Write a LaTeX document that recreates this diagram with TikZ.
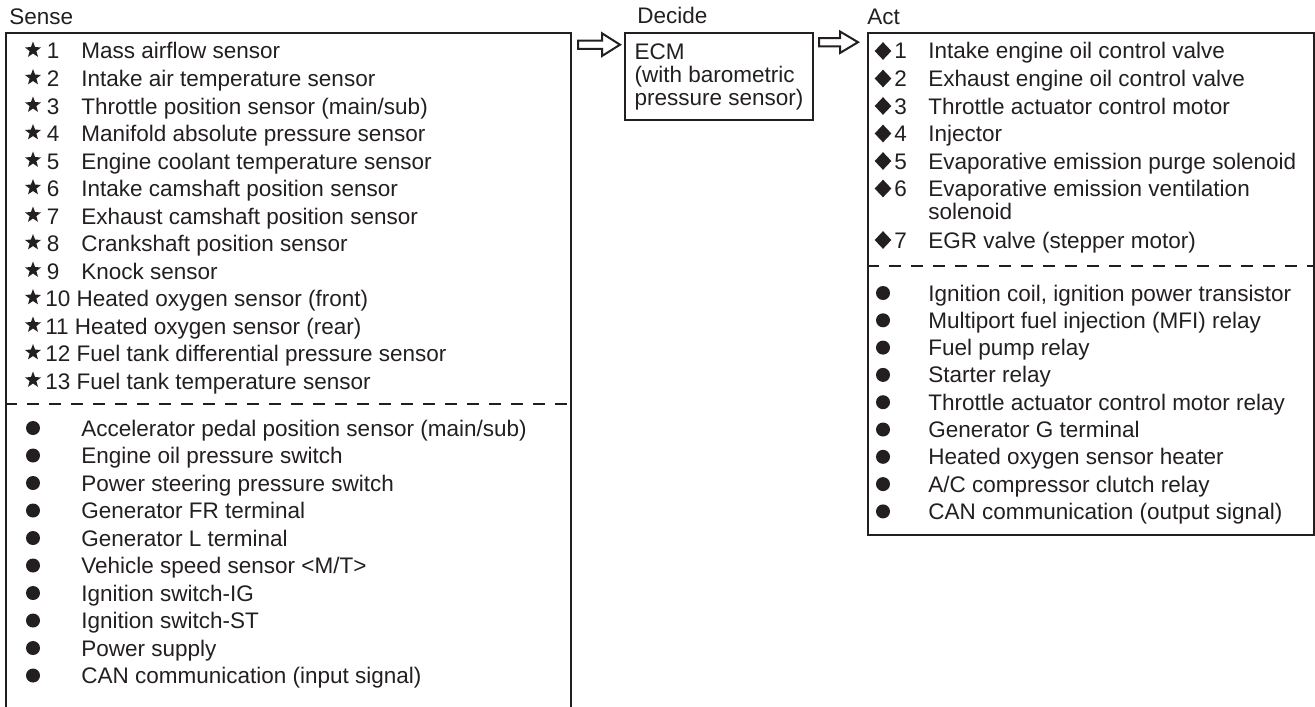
\documentclass[tikz,border=0pt]{standalone}
\usepackage{fontspec}
\setmainfont{Liberation Sans}
\usetikzlibrary{shapes.geometric}
\definecolor{ink}{HTML}{231F20}
\tikzset{
  txt/.style={anchor=base west,inner sep=0pt,text=ink,font=\fontsize{11.25}{11.5}\selectfont},
  frame/.style={draw=ink,line width=1pt},
  sep/.style={draw=ink,line width=0.75pt,dash pattern=on 6pt off 5pt},
  starmark/.style={star,star points=5,star point ratio=2.4,fill=ink,inner sep=0pt,minimum size=8.5pt},
  diamark/.style={diamond,fill=ink,inner sep=0pt,minimum width=8.5pt,minimum height=9pt},
  dotmark/.style={circle,fill=ink,inner sep=0pt,minimum size=7pt},
}
\begin{document}
\begin{tikzpicture}[x=0.5pt,y=-0.5pt]
\useasboundingbox (0,0) rectangle (1315,706);
% headings
\node[txt] (sense) at (9,25) {Sense};
\node[txt] (decide) at (637,24) {Decide};
\node[txt] (act) at (867,25) {Act};
% boxes
\node[frame,anchor=north west,inner sep=0pt,minimum width=282.5pt,minimum height=360pt] (sbox) at (5,32) {};
\node[frame,anchor=north west,inner sep=0pt,minimum width=94pt,minimum height=43.5pt,
      align=left,text=ink,font=\fontsize{11.25}{11.5}\selectfont] (ecm) at (624,32)
      {ECM\\(with barometric\\pressure sensor)};
\node[frame,anchor=north west,inner sep=0pt,minimum width=223pt,minimum height=251pt] (abox) at (867,32) {};
% hollow arrows
\draw[frame,line join=miter] (578,40.7) -- (602,40.7) -- (602,33.3) -- (620,44.7) -- (602,56) -- (602,49) -- (578,49) -- cycle;
\draw[frame,line join=miter] (819,38.2) -- (840,38.2) -- (840,31.5) -- (858,42.2) -- (840,53) -- (840,46.5) -- (819,46.5) -- cycle;
% dashed separators
\draw[sep] (5,404) -- (570,404);
\draw[sep] (867,266) -- (1313,266);
% sense: numbered sensors
\foreach \t [count=\n] in {Mass airflow sensor,Intake air temperature sensor,
  Throttle position sensor (main/sub),Manifold absolute pressure sensor,
  Engine coolant temperature sensor,Intake camshaft position sensor,
  Exhaust camshaft position sensor,Crankshaft position sensor,Knock sensor}{
  \node[starmark] (sm\n) at (33,50+27.5*\n-27.5) {};
  \node[txt] (sn\n) at (46.5,59+27.5*\n-27.5) {\n};
  \node[txt] (st\n) at (81,59+27.5*\n-27.5) {\t};
}
\foreach \t [count=\n from 10] in {Heated oxygen sensor (front),Heated oxygen sensor (rear),
  Fuel tank differential pressure sensor,Fuel tank temperature sensor}{
  \node[starmark] (sm\n) at (33,50+27.5*\n-27.5) {};
  \node[txt] (st\n) at (45,59+27.5*\n-27.5) {\n\ \t};
}
% sense: other inputs
\foreach \t [count=\n] in {Accelerator pedal position sensor (main/sub),Engine oil pressure switch,
  Power steering pressure switch,Generator FR terminal,Generator L terminal,
  Vehicle speed sensor <M/T>,Ignition switch-IG,Ignition switch-ST,Power supply,
  CAN communication (input signal)}{
  \node[dotmark] (sd\n) at (33,428+27.5*\n-27.5) {};
  \node[txt] (su\n) at (81,436+27.5*\n-27.5) {\t};
}
% act: numbered actuators
\foreach \t [count=\n] in {Intake engine oil control valve,Exhaust engine oil control valve,
  Throttle actuator control motor,Injector,Evaporative emission purge solenoid,
  Evaporative emission ventilation}{
  \node[diamark] (am\n) at (883,51+27.5*\n-27.5) {};
  \node[txt] (an\n) at (894,59+27.5*\n-27.5) {\n};
  \node[txt] (at\n) at (928,59+27.5*\n-27.5) {\t};
}
\node[txt] (at6b) at (928,219.5) {solenoid};
\node[diamark] (am7) at (883,240) {};
\node[txt] (an7) at (894,248) {7};
\node[txt] (at7) at (928,248) {EGR valve (stepper motor)};
% act: other outputs
\foreach \t [count=\n] in {{Ignition coil, ignition power transistor},
  Multiport fuel injection (MFI) relay,Fuel pump relay,Starter relay,
  Throttle actuator control motor relay,Generator G terminal,Heated oxygen sensor heater,
  A/C compressor clutch relay,CAN communication (output signal)}{
  \node[dotmark] (ad\n) at (883,293+27.3*\n-27.3) {};
  \node[txt] (au\n) at (928,301+27.3*\n-27.3) {\t};
}
\end{tikzpicture}
\end{document}
